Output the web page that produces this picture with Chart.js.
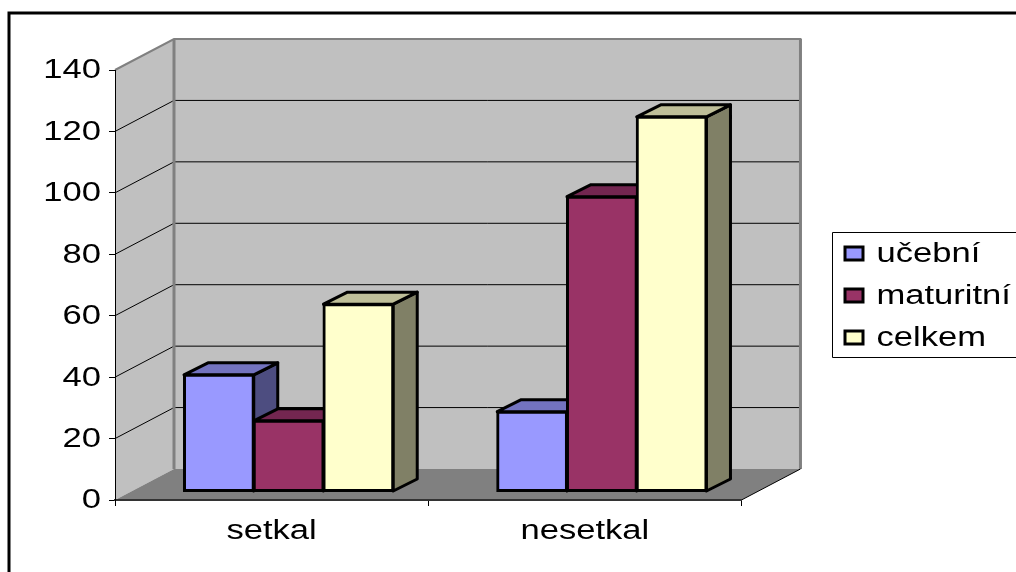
<!DOCTYPE html>
<html>
<head>
<meta charset="utf-8">
<title>setkal / nesetkal</title>
<script src="https://cdn.jsdelivr.net/npm/chart.js@4"></script>
<style>
  html, body { margin: 0; padding: 0; background: #fff; }
  canvas { display: block; }
</style>
</head>
<body>
<canvas id="grafSetkal" width="1016" height="572"></canvas>
<script>
const kategorie = ['setkal', 'nesetkal'];
const nazvyRad = ['učební', 'maturitní', 'celkem'];
const ucebni = [38, 26];
const maturitni = [23, 96];
const celkem = [61, 122];
const barvyCel = ['#9999FF', '#993366', '#FFFFCC'];
const barvyVrch = ['#7373BF', '#732650', '#BFBF99'];
const barvyBok = ['#4D4D80', '#4D1A33', '#808066'];

// hloubka grafu (stena vzadu) a posun sloupcu do hloubky
const HLOUBKA_X = 59, HLOUBKA_Y = 31;
const POSUN_X = 17, POSUN_Y = 8.5;
const SLOUPEC_X = 24, SLOUPEC_Y = 12;
const ROZTAH_TEXTU = 1.28;

function polygon(ctx, body, vypln) {
    ctx.beginPath();
    body.forEach((b, i) => i ? ctx.lineTo(b[0], b[1]) : ctx.moveTo(b[0], b[1]));
    ctx.closePath();
    if (vypln) {
        ctx.fillStyle = vypln;
        ctx.fill();
    }
}

function cara(ctx, body, barva, sirka) {
    ctx.beginPath();
    body.forEach((b, i) => i ? ctx.lineTo(b[0], b[1]) : ctx.moveTo(b[0], b[1]));
    ctx.strokeStyle = barva;
    ctx.lineWidth = sirka;
    ctx.stroke();
}

// text v predloze je siroky, proto se pismo roztahne do sirky
const sirokyText = {
    id: 'sirokyText',
    beforeInit(chart) {
        const ctx = chart.ctx;
        const puvodni = ctx.fillText.bind(ctx);
        ctx.fillText = function (t, x, y) {
            ctx.save();
            ctx.translate(x, y + 1);
            ctx.scale(ROZTAH_TEXTU, 1);
            puvodni(t, 0, 0);
            ctx.restore();
        };
    }
};

const steny = {
    id: 'steny',
    afterLayout(chart) {
        // legenda sedi dal od grafu nez by ji dal layout
        const lg = chart.legend;
        lg.left = 830;
        lg.right = chart.width;
        lg.top = 225;
    },
    beforeDraw(chart) {
        const ctx = chart.ctx;
        const { left, right } = chart.chartArea;
        const sy = chart.scales.y;
        const dole = sy.getPixelForValue(0);
        const nahore = sy.getPixelForValue(140);
        const dx = HLOUBKA_X, dy = HLOUBKA_Y;

        ctx.save();
        ctx.fillStyle = '#fff';
        ctx.fillRect(0, 0, chart.width, chart.height);

        polygon(ctx, [[left, nahore], [left + dx, nahore - dy], [left + dx, dole - dy], [left, dole]], '#C0C0C0');
        polygon(ctx, [[left + dx, nahore - dy], [right + dx, nahore - dy], [right + dx, dole - dy], [left + dx, dole - dy]], '#C0C0C0');
        polygon(ctx, [[left, dole], [right, dole], [right + dx, dole - dy], [left + dx, dole - dy]], '#808080');

        sy.ticks.forEach(t => {
            if (t.value === 0 || t.value === 140) return;
            const y = sy.getPixelForValue(t.value);
            cara(ctx, [[left, y], [left + dx, y - dy], [right + dx, y - dy]], '#000', 1);
        });

        cara(ctx, [[left, nahore], [left + dx, nahore - dy], [right + dx + 1, nahore - dy]], '#808080', 2);
        cara(ctx, [[left + dx, nahore - dy], [left + dx, dole - dy]], '#808080', 3);
        cara(ctx, [[right + dx, nahore - dy], [right + dx, dole - dy]], '#808080', 3);
        cara(ctx, [[right, dole], [right + dx, dole - dy]], '#000', 1);

        // ramecek grafu a legendy
        cara(ctx, [[9, chart.height], [9, 13], [chart.width, 13]], '#000', 3);
        const lg = chart.legend;
        cara(ctx, [[chart.width, lg.top + 7.5], [lg.left + 2.5, lg.top + 7.5], [lg.left + 2.5, lg.top + 132.5], [chart.width, lg.top + 132.5]], '#000', 1);
        ctx.restore();
    },
    beforeDatasetsDraw(chart) {
        const ctx = chart.ctx;
        ctx.save();
        ctx.translate(POSUN_X, -POSUN_Y);
        ctx.lineJoin = 'round';
        // boky a vrchy pred celnimi stenami, ty je pak zakryji
        kategorie.forEach((_, k) => {
            chart.data.datasets.forEach((ds, i) => {
                const b = chart.getDatasetMeta(i).data[k];
                const l = b.x - b.width / 2, r = b.x + b.width / 2;
                const sx = SLOUPEC_X, sy = SLOUPEC_Y;
                polygon(ctx, [[r, b.y], [r + sx, b.y - sy], [r + sx, b.base - sy], [r, b.base]], barvyBok[i]);
                ctx.strokeStyle = '#000';
                ctx.lineWidth = 3;
                ctx.stroke();
                polygon(ctx, [[l, b.y], [l + sx, b.y - sy], [r + sx, b.y - sy], [r, b.y]], barvyVrch[i]);
                ctx.stroke();
            });
        });
    },
    afterDatasetsDraw(chart) {
        chart.ctx.restore();
    }
};

const rady = [ucebni, maturitni, celkem];
const pismo = { family: '"Liberation Sans", Arial, sans-serif', size: 27 };

new Chart(document.getElementById('grafSetkal').getContext('2d'), {
    type: 'bar',
    data: {
        labels: kategorie,
        datasets: rady.map((hodnoty, i) => ({
            label: nazvyRad[i],
            data: hodnoty,
            backgroundColor: barvyCel[i],
            borderColor: '#000',
            borderWidth: 3,
            borderSkipped: false,
            inflateAmount: 1,
            clip: false,
            categoryPercentage: 0.668,
            barPercentage: 1
        }))
    },
    options: {
        responsive: false,
        animation: false,
        layout: { padding: { left: 0, top: 70, right: 113, bottom: 0 } },
        scales: {
            x: {
                afterFit(s) { s.height = 72; },
                border: { color: '#333', width: 2 },
                grid: { display: true, offset: true, drawOnChartArea: false, tickLength: 6, color: '#000' },
                ticks: { color: '#000', font: pismo, padding: 8, maxRotation: 0 }
            },
            y: {
                min: 0,
                max: 140,
                afterFit(s) { s.width = 115; },
                border: { color: '#000', width: 1 },
                grid: { display: true, drawOnChartArea: false, tickLength: 6, color: '#000' },
                ticks: { stepSize: 20, color: '#000', font: pismo, padding: 8 }
            }
        },
        plugins: {
            tooltip: { enabled: false },
            legend: {
                position: 'right',
                align: 'start',
                onClick: null,
                labels: {
                    color: '#000',
                    font: pismo,
                    boxWidth: 18,
                    boxHeight: 13,
                    padding: 15
                }
            }
        }
    },
    plugins: [sirokyText, steny]
});
</script>
</body>
</html>
